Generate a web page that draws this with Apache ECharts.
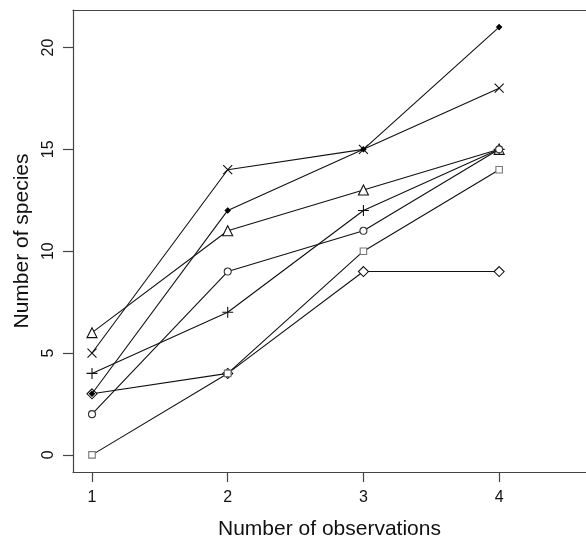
<!DOCTYPE html>
<html><head><meta charset="utf-8">
<script src="https://cdn.jsdelivr.net/npm/echarts@6/dist/echarts.min.js"></script>
<style>html,body{margin:0;padding:0;background:#fff}#c{width:586px;height:541px}</style>
</head><body><div id="c"></div>
<script>
var observations = [1, 2, 3, 4];
var xTicks = [1, 2, 3, 4];
var yTicks = [0, 5, 10, 15, 20];
var sFilledDiamond = [3, 12, 15, 21];
var sCross = [5, 14, 15, 18];
var sTriangle = [6, 11, 13, 15];
var sPlus = [4, 7, 12, 15];
var sCircle = [2, 9, 11, 15];
var sSquare = [0, 4, 10, 14];
var sDiamond = [3, 4, 9, 9];

function pairs(v){ return observations.map(function(x,i){ return [x, v[i]]; }); }
var FONT = '"Liberation Sans", Arial, sans-serif';
var AX = '#444';
var XMIN = 0.86, XMAX = 4.64;

function mk(name, data, symbol, size, fill, stroke, z){
  return {
    name: name, type: 'line', data: pairs(data), symbol: symbol, symbolSize: size,
    xAxisIndex: 0, yAxisIndex: 0,
    lineStyle: {color: '#111', width: 1.1},
    itemStyle: {color: fill, borderColor: stroke, borderWidth: 1.1},
    emphasis: {disabled: true}, animation: false, z: z || 2
  };
}

var chart = echarts.init(document.getElementById('c'), null, {renderer: 'canvas'});
chart.setOption({
  animation: false,
  grid: {left: 73, right: 0, top: 10, bottom: 69, show: false, outerBoundsMode: 'none'},
  xAxis: [{
    type: 'value', min: XMIN, max: XMAX, position: 'bottom',
    splitLine: {show: false},
    axisLine: {show: true, onZero: false, lineStyle: {color: AX, width: 1.2}},
    axisTick: {show: true, length: 10, inside: false, lineStyle: {color: AX, width: 1.2}, customValues: xTicks},
    axisLabel: {customValues: xTicks, color: '#111', fontSize: 16, fontFamily: FONT, margin: 18},
    name: 'Number of observations', nameLocation: 'middle', nameGap: 47,
    nameTextStyle: {color: '#111', fontSize: 21, fontFamily: FONT}
  }, {
    type: 'value', min: XMIN, max: XMAX, position: 'top',
    splitLine: {show: false},
    axisLine: {show: true, onZero: false, lineStyle: {color: AX, width: 1.2}},
    axisTick: {show: false}, axisLabel: {show: false}
  }],
  yAxis: {
    type: 'value', min: -0.84, max: 21.84,
    splitLine: {show: false},
    axisLine: {show: true, onZero: false, lineStyle: {color: AX, width: 1.2}},
    axisTick: {show: true, length: 10, inside: false, lineStyle: {color: AX, width: 1.2}, customValues: yTicks},
    axisLabel: {customValues: yTicks, color: '#111', fontSize: 16, fontFamily: FONT, margin: 16, rotate: 90},
    name: 'Number of species', nameLocation: 'middle', nameGap: 40,
    nameTextStyle: {color: '#111', fontSize: 21, fontFamily: FONT}
  },
  series: [
    mk('diamondOpen', sDiamond, 'diamond', 10, '#fff', '#111', 2),
    mk('filledDiamond', sFilledDiamond, 'diamond', 5, '#000', '#000', 3),
    mk('cross', sCross, 'path://M0,0L10,10M10,0L0,10', 9, 'none', '#111', 2),
    mk('triangle', sTriangle, 'path://M5,0L10,9L0,9Z', 10, '#fff', '#111', 2),
    mk('plus', sPlus, 'path://M5,0L5,10M0,5L10,5', 11, 'none', '#111', 2),
    mk('circle', sCircle, 'circle', 7, '#fff', '#333', 2),
    mk('square', sSquare, 'rect', 6.5, '#fff', '#777', 2)
  ]
});
</script></body></html>
